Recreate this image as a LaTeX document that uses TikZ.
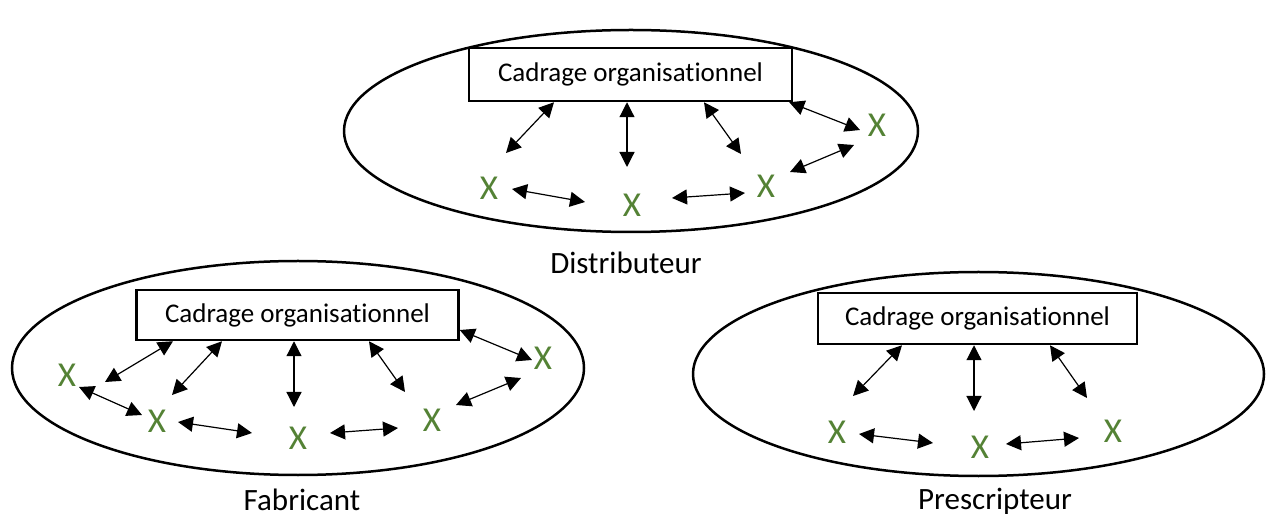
\documentclass[tikz,border=0pt]{standalone}
\usepackage{fontspec}
\setmainfont{Carlito}[Ligatures={NoCommon}]
\usetikzlibrary{arrows.meta,shapes.geometric}
\definecolor{XGreen}{HTML}{548235}

\begin{document}
\begin{tikzpicture}[x=1pt,y=-1pt,
  oval/.style={draw,ellipse,line width=2.5pt,inner sep=0pt},
  box/.style={draw,line width=2.5pt,inner sep=0pt,font=\fontsize{27}{32}\selectfont},
  actor/.style={text=XGreen,inner sep=0pt,font=\fontsize{35}{42}\selectfont},
  caption/.style={anchor=base,inner sep=0pt,font=\fontsize{31}{37}\selectfont},
  arrow/.style={{Triangle[length=15pt,width=15pt]}-{Triangle[length=15pt,width=15pt]},line width=1.2pt}
]
\useasboundingbox (0,0) rectangle (1269,518);

% Distributeur
\node[oval,minimum width=574pt,minimum height=202pt] (dist) at (631,131) {};
\node[box,minimum width=323pt,minimum height=53pt] (dcad) at (630.5,74.5) {Cadrage organisationnel};
\node[actor] (dx1) at (489,188) {X};
\node[actor] (dx2) at (632,205) {X};
\node[actor] (dx3) at (766,186) {X};
\node[actor] (dx4) at (877,125) {X};
\node[caption] (dlab) at (626,274) {Distributeur};
\draw[arrow] ([xshift=-76.5pt]dcad.south) -- ([shift={(17,-35)}]dx1.center);
\draw[arrow] ([xshift=-3.5pt]dcad.south) -- ([shift={(-5,-38)}]dx2.center);
\draw[arrow] ([xshift=73.5pt]dcad.south) -- ([shift={(-25,-32)}]dx3.center);
\draw[arrow] ([xshift=-4pt]dcad.south east) -- ([shift={(-17,5)}]dx4.center);
\draw[arrow] ([shift={(24,-14)}]dx3.center) -- ([shift={(-23,20)}]dx4.center);
\draw[arrow] ([shift={(23,1)}]dx1.center) -- ([shift={(-47,-3)}]dx2.center);
\draw[arrow] ([shift={(40,-7)}]dx2.center) -- ([shift={(-21,7)}]dx3.center);

% Fabricant
\node[oval,minimum width=572pt,minimum height=214pt] (fab) at (298,368) {};
\node[box,minimum width=322pt,minimum height=50pt] (fcad) at (297.5,315) {Cadrage organisationnel};
\node[actor] (fx1) at (67,375) {X};
\node[actor] (fx2) at (157,421) {X};
\node[actor] (fx3) at (298,438) {X};
\node[actor] (fx4) at (432,420) {X};
\node[actor] (fx5) at (543,358) {X};
\node[caption] (flab) at (302,510) {Fabricant};
\draw[arrow] ([xshift=-124.5pt]fcad.south) -- ([shift={(38,7)}]fx1.center);
\draw[arrow] ([xshift=-75.5pt]fcad.south) -- ([shift={(15,-26)}]fx2.center);
\draw[arrow] ([xshift=-3.5pt]fcad.south) -- ([shift={(-4,-31)}]fx3.center);
\draw[arrow] ([xshift=71.5pt]fcad.south) -- ([shift={(-27,-28)}]fx4.center);
\draw[arrow] ([yshift=-15pt]fcad.east) -- ([shift={(-11,2)}]fx5.center);
\draw[arrow] ([shift={(12,12)}]fx1.center) -- ([shift={(-15,-6)}]fx2.center);
\draw[arrow] ([shift={(21,1)}]fx2.center) -- ([shift={(-46,-5)}]fx3.center);
\draw[arrow] ([shift={(32,-5)}]fx3.center) -- ([shift={(-34,8)}]fx4.center);
\draw[arrow] ([shift={(24,-15)}]fx4.center) -- ([shift={(-22,20)}]fx5.center);

% Prescripteur
\node[oval,minimum width=571pt,minimum height=204pt] (pres) at (978.5,374) {};
\node[box,minimum width=319pt,minimum height=51pt] (pcad) at (977.5,318.5) {Cadrage organisationnel};
\node[actor] (px1) at (837,432) {X};
\node[actor] (px2) at (980,447) {X};
\node[actor] (px3) at (1113,431) {X};
\node[caption] (plab) at (995,509) {Prescripteur};
\draw[arrow] ([xshift=-75.5pt]pcad.south) -- ([shift={(16,-36)}]px1.center);
\draw[arrow] ([xshift=-3.5pt]pcad.south) -- ([shift={(-6,-36)}]px2.center);
\draw[arrow] ([xshift=72.5pt]pcad.south) -- ([shift={(-26,-33)}]px3.center);
\draw[arrow] ([shift={(22,2)}]px1.center) -- ([shift={(-47,-4)}]px2.center);
\draw[arrow] ([shift={(26,-3)}]px2.center) -- ([shift={(-34,7)}]px3.center);
\end{tikzpicture}
\end{document}
